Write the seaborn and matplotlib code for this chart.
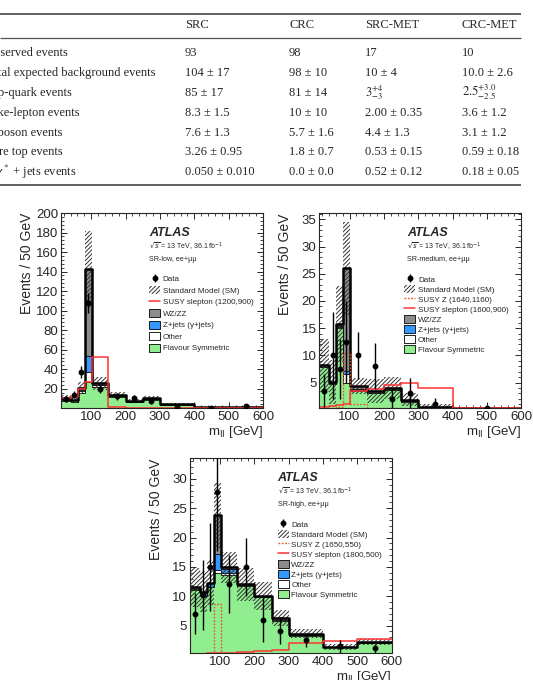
import numpy as np
import matplotlib
matplotlib.use("Agg")
import matplotlib.pyplot as plt
import seaborn as sns
from matplotlib.lines import Line2D
from matplotlib.patches import Patch
from matplotlib.ticker import MultipleLocator

# ---------------- table values ----------------
table_cols = ["SRC", "CRC", "SRC-MET", "CRC-MET"]
table_rows = ["Observed events", "Total expected background events", "Top-quark events",
              "Fake-lepton events", "Diboson events", "Rare top events",
              r"Z/$\gamma^*$ + jets events"]
col_src = ["93", "104 ± 17", "85 ± 17", "8.3 ± 1.5", "7.6 ± 1.3", "3.26 ± 0.95", "0.050 ± 0.010"]
col_crc = ["98", "98 ± 10", "81 ± 14", "10 ± 10", "5.7 ± 1.6", "1.8 ± 0.7", "0.0 ± 0.0"]
col_src_met = ["17", "10 ± 4", r"$3^{+4}_{-3}$", "2.00 ± 0.35", "4.4 ± 1.3", "0.53 ± 0.15", "0.52 ± 0.12"]
col_crc_met = ["10", "10.0 ± 2.6", r"$2.5^{+3.0}_{-2.5}$", "3.6 ± 1.2", "3.1 ± 1.2", "0.59 ± 0.18", "0.18 ± 0.05"]

# ---------------- histogram values (events / 50 GeV) ----------------
edges_low = [12, 41, 61, 81, 101, 150, 200, 250, 300, 400, 500, 600]
fs_low = [7, 6.5, 16, 27, 22, 12, 6, 9, 3.5, 0.7, 0.5]
other_low = [2, 1.5, 2, 10.5, 1.5, 0.8, 0.8, 0.6, 0.4, 0.2, 0.2]
zjets_low = [0.5, 0.5, 1, 16.5, 0.5, 0.2, 0.2, 0.1, 0.1, 0.05, 0.05]
wzzz_low = [1, 0.5, 1.5, 89, 1.5, 0.8, 0.5, 0.4, 0.3, 0.1, 0.1]
unc_low = [3, 2.5, 6, 39, 7, 3, 2, 2, 1, 0.4, 0.4]
data_low = [9.5, 14, 37, 108, 20, 12.5, 10.7, 7, 1.8, 0.5, 2.4]
derr_low = [3.2, 3.9, 6.2, 10.4, 4.6, 3.6, 3.3, 2.7, 1.4, 0.7, 1.5]
slep_low = [11, 12, 20, 27, 53, 1.5, 0.7, 0.6, 0.4, 0.3, 0.3]

edges_med = [12, 41, 61, 81, 101, 150, 200, 250, 300, 400, 600]
fs_med = [7.8, 4.8, 15, 5, 3.4, 3, 3.6, 1.5, 0.4, 0.2]
other_med = [0.1, 0.1, 0.3, 1.5, 0.3, 0.1, 0.1, 0.1, 0.05, 0.02]
zjets_med = [0.05, 0.05, 0.1, 0.6, 0.05, 0.02, 0.02, 0.02, 0.01, 0.01]
wzzz_med = [0.2, 0.2, 0.4, 18.9, 0.6, 0.3, 0.3, 0.2, 0.1, 0.05]
unc_med = [4.8, 4, 7, 8.5, 1.5, 2.2, 2, 1.2, 0.6, 0.3]
data_med = [3.5, 10, 7.5, 12.5, 10, 8, 2, 3, 1, 0.35]
derr_med = [3, 8, 5.5, 7.5, 4.3, 4.2, 1.8, 2.8, 1.2, 0.3]
slep_med = [0.5, 0.7, 0.9, 1.1, 3.4, 3.8, 4.6, 4.9, 4.0, 0.4]
susyz_med = [0.3, 0.3, 0.5, 10.5, 1.0, 0.4, 0.3, 0.2, 0.1, 0.05]

edges_high = [12, 41, 61, 81, 101, 150, 200, 250, 300, 400, 500, 600]
fs_high = [11, 10, 11.5, 14, 13.6, 11.8, 9.8, 5.8, 3.3, 1.3, 2.0]
other_high = [0.2, 0.1, 0.1, 0.4, 0.3, 0.1, 0.1, 0.1, 0.1, 0.05, 0.05]
zjets_high = [0.1, 0.6, 0.6, 2.8, 0.7, 0.05, 0.05, 0.05, 0.02, 0.01, 0.01]
wzzz_high = [0.2, 0.1, 0.1, 6.6, 0.3, 0.1, 0.1, 0.3, 0.2, 0.05, 0.1]
unc_high = [3.3, 3.5, 3.8, 5.5, 2.6, 2.8, 2.4, 1.4, 0.8, 0.5, 0.5]
data_high = [7, 10.2, 15, 27.7, 12.1, 15, 6, 4.1, 2.5, 1.5, 1.1]
derr_high = [3.5, 6, 7.5, 10, 5, 5, 3.8, 2.3, 1.1, 1.1, 0.8]
slep_high = [0.2, 0.2, 0.25, 0.3, 0.4, 0.5, 0.6, 0.8, 2.0, 2.4, 2.7]
susyz_high = [0.1, 0.1, 0.2, 8.6, 0.2, 0.15, 0.1, 0.05, 0.05, 0.02, 0.02]

c_fs = '#90ee90'
c_z = '#3399ff'
c_wz = '#8c8c8c'
c_red = '#ff3333'
c_dot = '#e8501c'
c_hatch = '#333333'
hatch = '////////'

sns.set_style("ticks")
plt.rcParams['font.family'] = ['Liberation Sans', 'DejaVu Sans']
plt.rcParams['hatch.linewidth'] = 0.7
plt.rcParams['axes.linewidth'] = 0.8

fig = plt.figure(figsize=(5.33, 6.8), dpi=100)

# ---------------- table ----------------
tab = fig.add_axes([0, 1 - 190 / 680, 1, 190 / 680])
tab.set_xlim(0, 533)
tab.set_ylim(190, 0)
tab.axis('off')
serif = dict(family=['Liberation Serif', 'DejaVu Serif'], fontsize=9, va='center',
             math_fontfamily='stix')
col_x = [185, 289, 365, 462]
row_y = [53.3, 72.7, 92.7, 113.3, 132.7, 152.3, 171.7]
for x, name in zip(col_x, table_cols):
    tab.text(x, 25.5, name, **serif)
# the row labels run off the left edge of the page, as in the source
for y, name in zip(row_y, table_rows):
    tab.text(-15, y, name, **serif)
for x, col in zip(col_x, [col_src, col_crc, col_src_met, col_crc_met]):
    for y, val in zip(row_y, col):
        tab.text(x, y, val, **serif)
tab.hlines(14, 0, 521, color='#555555', lw=1.3)
tab.hlines(38, 0, 521, color='#555555', lw=0.9)
tab.hlines(185, 0, 521, color='#555555', lw=1.3)


def step_hist(ax, centers, heights, edges, **kw):
    # seaborn draws the weighted histogram, one weight per bin
    sns.histplot(x=list(centers), weights=list(heights), bins=list(edges),
                 element='step', ax=ax, **kw)


def draw_panel(rect, edges, fs, other, zjets, wzzz, unc, data, derr, slep, slep_label,
               susyz, susyz_label, region, ylim, ymajor, yminor, legend_x, lspace):
    ax = fig.add_axes(rect)
    edges = np.array(edges, dtype=float)
    centers = 0.5 * (edges[1:] + edges[:-1])
    widths = np.diff(edges)
    c1 = np.array(fs)
    c2 = c1 + np.array(other)
    c3 = c2 + np.array(zjets)
    c4 = c3 + np.array(wzzz)
    unc = np.array(unc)

    for cum, col in [(c4, c_wz), (c3, c_z), (c2, 'white'), (c1, c_fs)]:
        step_hist(ax, centers, cum, edges, fill=True, color=col, facecolor=col,
                  edgecolor='black', linewidth=0.6, alpha=1)
    ax.bar(edges[:-1], 2 * unc, bottom=c4 - unc, width=widths, align='edge',
           fill=False, hatch=hatch, edgecolor=c_hatch, linewidth=0)
    step_hist(ax, centers, c4, edges, fill=False, color='black', linewidth=1.8)
    if susyz is not None:
        step_hist(ax, centers, susyz, edges, fill=False, color=c_dot, linewidth=1.0,
                  linestyle=(0, (1.2, 1.2)))
    step_hist(ax, centers, slep, edges, fill=False, color=c_red, linewidth=1.1)
    eb = ax.errorbar(centers, data, yerr=derr, fmt='o', color='black', ms=3.2,
                     elinewidth=1.0, capsize=0, zorder=6)

    ax.set_xlim(12, 600)
    ax.xaxis.set_major_locator(MultipleLocator(100))
    ax.xaxis.set_minor_locator(MultipleLocator(20))
    ax.yaxis.set_major_locator(MultipleLocator(ymajor))
    ax.yaxis.set_minor_locator(MultipleLocator(yminor))
    ax.set_yticks(np.arange(ymajor, ylim[1] + 0.01, ymajor))
    ax.set_ylim(*ylim)
    ax.tick_params(which='both', direction='in', top=True, right=True, labelsize=9.5,
                   pad=2)
    ax.tick_params(which='major', length=4.5, width=0.7)
    ax.tick_params(which='minor', length=2.3, width=0.6)
    ax.set_xlabel(r"m$_{\rm ll}$ [GeV]", fontsize=9.5, loc='right', labelpad=1)
    ax.set_ylabel("Events / 50 GeV", fontsize=10, loc='top')
    ax.yaxis.set_label_coords(-27 / 202, 1.0)

    ax.text(0.435, 0.898, "ATLAS", transform=ax.transAxes, fontsize=9,
            fontweight='bold', fontstyle='italic', va='center')
    ax.text(0.435, 0.828, r"$\sqrt{s}$ = 13 TeV, 36.1 fb$^{-1}$", transform=ax.transAxes,
            fontsize=5, va='center')
    ax.text(0.435, 0.764, region, transform=ax.transAxes, fontsize=5.2, va='center')

    handles = [eb, Patch(facecolor='white', edgecolor=c_hatch, hatch=hatch, lw=0)]
    labels = ["Data", "Standard Model (SM)"]
    if susyz is not None:
        handles.append(Line2D([], [], color=c_dot, lw=1.0, ls=(0, (1.2, 1.2))))
        labels.append(susyz_label)
    handles.append(Line2D([], [], color=c_red, lw=1.1))
    labels.append(slep_label)
    handles += [Patch(facecolor=c_wz, edgecolor='black', lw=0.6),
                Patch(facecolor=c_z, edgecolor='black', lw=0.6),
                Patch(facecolor='white', edgecolor='black', lw=0.6),
                Patch(facecolor=c_fs, edgecolor='black', lw=0.6)]
    labels += ["WZ/ZZ", "Z+jets (γ+jets)", "Other", "Flavour Symmetric"]
    ax.legend(handles, labels, loc='upper left', bbox_to_anchor=(legend_x, 0.683),
              frameon=False, fontsize=5.8, handlelength=1.35, handleheight=1.1,
              handletextpad=0.35, labelspacing=lspace, borderpad=0, borderaxespad=0)
    return ax


draw_panel([61 / 533, 1 - 408 / 680, 202 / 533, 195 / 680], edges_low, fs_low, other_low,
           zjets_low, wzzz_low, unc_low, data_low, derr_low, slep_low,
           "SUSY slepton (1200,900)", None, None, "SR-low, ee+μμ",
           (0.3, 200), 20, 4, 0.436, 0.36)
draw_panel([319.3 / 533, 1 - 408.3 / 680, 202 / 533, 195 / 680], edges_med, fs_med, other_med,
           zjets_med, wzzz_med, unc_med, data_med, derr_med, slep_med,
           "SUSY slepton (1600,900)", susyz_med, "SUSY Z (1640,1160)", "SR-medium, ee+μμ",
           (0.28, 36.1), 5, 1, 0.421, 0.17)
draw_panel([190 / 533, 1 - 653.3 / 680, 201.7 / 533, 195 / 680], edges_high, fs_high, other_high,
           zjets_high, wzzz_high, unc_high, data_high, derr_high, slep_high,
           "SUSY slepton (1800,500)", susyz_high, "SUSY Z (1650,550)", "SR-high, ee+μμ",
           (0.28, 33.5), 5, 1, 0.435, 0.17)

fig.savefig("out.png", dpi=100)
